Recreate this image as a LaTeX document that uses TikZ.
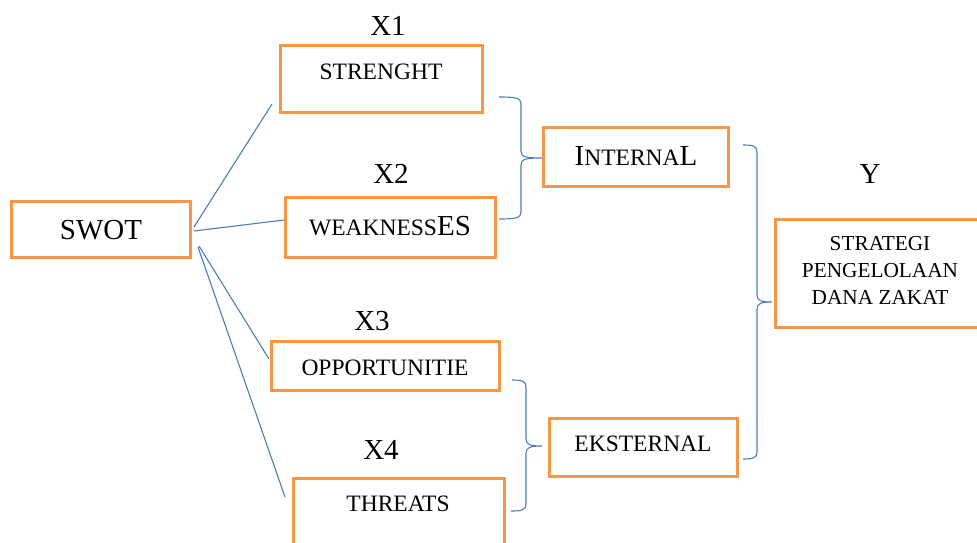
\documentclass[tikz,border=0pt]{standalone}
\usepackage{fontspec}
\setmainfont{Liberation Serif}
\definecolor{boxorange}{HTML}{F79646}
\definecolor{linkblue}{HTML}{4A7EBB}
\newcommand\bigsz{\fontsize{29}{32}\selectfont}
\newcommand\boxsz{\fontsize{23.5}{27}\selectfont}
\newcommand\ysz{\fontsize{21.3}{27}\selectfont}
\begin{document}
\begin{tikzpicture}[x=1pt,y=-1pt,
  obox/.style={draw=boxorange,line width=3pt,rectangle,inner sep=0pt},
  link/.style={draw=linkblue,line width=1.1pt},
  txt/.style={anchor=base,inner sep=0pt,text=black}]
\clip (0,0) rectangle (977,543);
\useasboundingbox (0,0) rectangle (977,543);
% boxes
\node[obox,minimum width=179pt,minimum height=56pt] (swot) at (100.5,229) {};
\node[obox,minimum width=202pt,minimum height=66pt] (str) at (381,79) {};
\node[obox,minimum width=210pt,minimum height=60pt] (weak) at (390,227) {};
\node[obox,minimum width=228pt,minimum height=49pt] (opp) at (385,365.5) {};
\node[obox,minimum width=211pt,minimum height=80pt] (thr) at (398.5,518) {};
\node[obox,minimum width=185pt,minimum height=59pt] (int) at (635.5,156.5) {};
\node[obox,minimum width=188pt,minimum height=58pt] (eks) at (643,447) {};
\node[obox,minimum width=210pt,minimum height=108pt] (strat) at (880,273) {};
% texts
\node[txt] (tswot) at (101,239) {\bigsz SWOT};
\node[txt] (tx1) at (388,36) {\bigsz X1};
\node[txt] (tx2) at (391,183) {\bigsz X2};
\node[txt] (tx3) at (372,330) {\bigsz X3};
\node[txt] (tx4) at (381,459) {\bigsz X4};
\node[txt] (ty) at (870,183) {\bigsz Y};
\node[txt] (tstr) at (381,79) {\boxsz STRENGHT};
\node[txt] (tweak) at (390,235) {\boxsz WEAKNESS\bigsz ES};
\node[txt] (topp) at (385,375) {\boxsz OPPORTUNITIE};
\node[txt] (tthr) at (398,511) {\boxsz THREATS};
\node[txt] (tint) at (636,165) {\bigsz I\boxsz NTERNA\bigsz L};
\node[txt] (teks) at (643,451) {\boxsz EKSTERNAL};
\node[txt] (tst1) at (880,250) {\ysz STRATEGI};
\node[txt] (tst2) at (880,277) {\ysz PENGELOLAAN};
\node[txt] (tst3) at (880,304) {\ysz DANA ZAKAT};
% connector end points
\coordinate (s1) at (194,227);
\coordinate (s2) at (194,231);
\coordinate (s3) at (199,246);
\coordinate (s4) at (198,247);
\coordinate (e1) at (272,104);
\coordinate (e2) at (284,220);
\coordinate (e3) at (269,359);
\coordinate (e4) at (285,497);
\draw[link] (s1) -- (e1);
\draw[link] (s2) -- (e2);
\draw[link] (s3) -- (e3);
\draw[link] (s4) -- (e4);
% braces
\draw[link] (499,97) .. controls (516,97) and (521,98) .. (521,104) -- (521,151)
  .. controls (521,157) and (526,158) .. (542,158)
  .. controls (526,158) and (521,159) .. (521,165) -- (521,212)
  .. controls (521,218) and (516,219) .. (499,219);
\draw[link] (743,145) .. controls (753,145) and (757,146) .. (757,152) -- (757,295)
  .. controls (757,301) and (762,302) .. (772,302)
  .. controls (762,302) and (757,303) .. (757,309) -- (757,452)
  .. controls (757,458) and (753,459) .. (743,459);
\draw[link] (512,380) .. controls (522,380) and (526,381) .. (526,387) -- (526,439)
  .. controls (526,445) and (531,446) .. (542,446)
  .. controls (531,446) and (526,447) .. (526,453) -- (526,504)
  .. controls (526,510) and (522,511) .. (511,511);
\end{tikzpicture}
\end{document}
